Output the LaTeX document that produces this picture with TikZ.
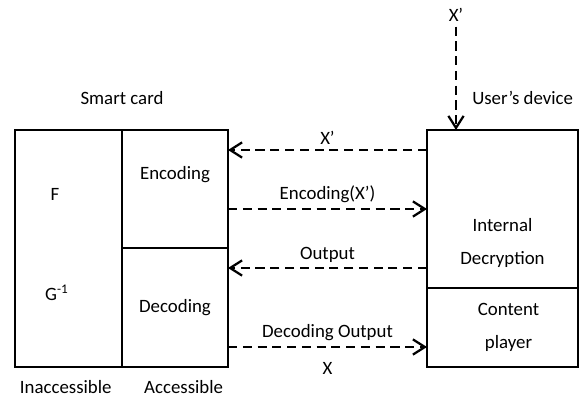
\documentclass[tikz,border=0pt]{standalone}
\usepackage{fontspec}
\setmainfont{Carlito}
\usetikzlibrary{arrows.meta, positioning, calc}

\begin{document}
\begin{tikzpicture}[
    box/.style={rectangle, draw=black, line width=1.4pt, inner sep=0pt, outer sep=0pt},
    txt/.style={font=\fontsize{13.4}{23}\selectfont, align=center},
    arrow/.style={-{Straight Barb[length=3mm, width=3.8mm]}, line width=1.6pt, dash pattern=on 6.5pt off 4pt},
    node distance=0cm
]
\useasboundingbox (0,0) rectangle (14.625,10.125);

% Smart card
\node[box, minimum width=2.675cm, minimum height=5.925cm, anchor=north west] (inacc) at (0.375,6.875) {};
\node[box, minimum width=2.65cm, minimum height=2.95cm, anchor=north west] (enc) at (inacc.north east) {};
\node[box, minimum width=2.65cm, minimum height=2.975cm, below=of enc] (dec) {};

\node[txt] (f) at ([xshift=-0.34cm, yshift=1.34cm]inacc.center) {F};
\node[txt] (ginv) at ([xshift=-0.29cm, yshift=-1.11cm]inacc.center) {G\textsuperscript{-1}};
\node[txt] (enctxt) at ([yshift=0.35cm]enc.center) {Encoding};
\node[txt] (dectxt) at (dec.center) {Decoding};

\node[txt, above=0.5cm of inacc.north east] (card) {Smart card};
\node[txt, below=0.2cm of inacc.south west, anchor=north west] (inacctxt) {Inaccessible};
\node[txt, below=0.2cm of dec.south east, anchor=north east] (acctxt) {Accessible};

% User's device
\node[box, minimum width=3.775cm, minimum height=3.95cm, anchor=north west] (dcr) at (10.675,6.875) {};
\node[box, minimum width=3.775cm, minimum height=1.975cm, below=of dcr] (player) {};

\node[txt] (dcrtxt) at ([yshift=-0.85cm]dcr.center) {Internal\\Decryption};
\node[txt] (playertxt) at ([xshift=0.15cm]player.center) {Content\\player};

\node[txt, above=0.5cm of dcr.north east, anchor=south east] (device) {User’s device};
\node[txt] (xin) at (11.4,9.75) {X’};

% Arrows
\coordinate (a1) at ([yshift=-0.5cm]dcr.north west);
\coordinate (a2) at ([yshift=0.975cm]enc.south east);
\coordinate (a3) at ([yshift=-0.5cm]dec.north east);
\coordinate (a4) at ([yshift=0.5cm]dec.south east);

\draw[arrow] (xin.south) -- (xin.south |- dcr.north);
\draw[arrow] (a1) -- node[txt, above] {X’} (a1 -| enc.east);
\draw[arrow] (a2) -- node[txt, above] {Encoding(X’)} (a2 -| dcr.west);
\draw[arrow] (a3 -| dcr.west) -- node[txt, above] {Output} (a3);
\draw[arrow] (a4) -- node[txt, above] {Decoding Output} node[txt, below=0.25cm] {X} (a4 -| dcr.west);

\end{tikzpicture}
\end{document}
